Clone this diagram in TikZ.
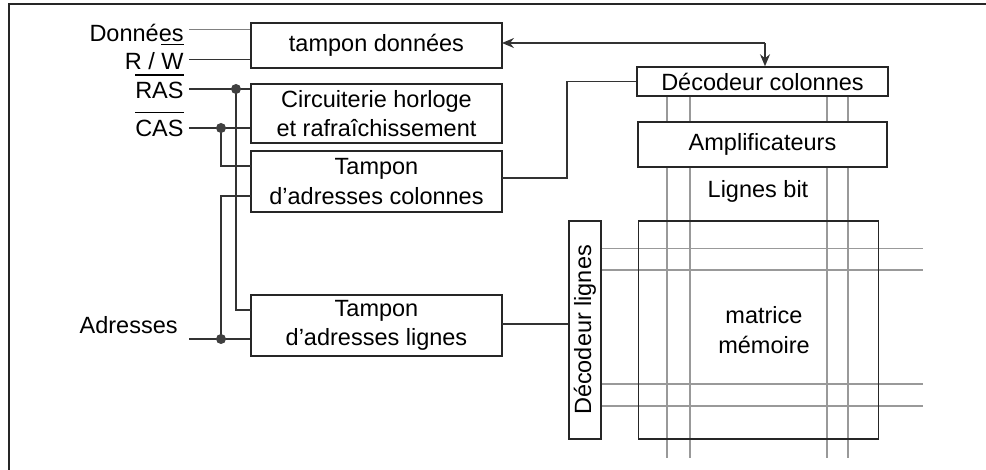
\documentclass[tikz,border=0pt]{standalone}
\usepackage{fontspec}
\setmainfont{Liberation Sans}
\usetikzlibrary{arrows.meta}
\newcommand\myovl[2][3.5pt]{\setbox0\hbox{#2}\rlap{\raisebox{\dimexpr\ht0+#1\relax}{\rule{\wd0}{0.6pt}}}\box0}
\begin{document}
\begin{tikzpicture}[x=0.5pt,y=-0.5pt,
  font=\fontsize{11.75pt}{14.75pt}\selectfont,
  box/.style={draw=black!85, line width=0.75pt, inner sep=0pt, align=center},
  wire/.style={draw=black!80, line width=0.7pt},
  grayw/.style={draw=black!50, line width=0.7pt},
  gridl/.style={draw=black!40, line width=0.8pt},
  lab/.style={inner sep=0pt, anchor=base east},
  dot/.style={circle, fill=black!75, inner sep=0pt, minimum size=5pt},
  tip/.style={-{Stealth[length=6pt,width=5pt,inset=2pt]}}]
\useasboundingbox (0,0) rectangle (986,470);
% frame
\coordinate (fA) at (9,470);
\coordinate (fB) at (9,4);
\coordinate (fC) at (986,4);
\draw[black!85, line width=0.7pt] (fA) -- (fB) -- (fC);

% labels
\node[lab] (lDon) at (184,41.7) {Donn\'ees};
\node[lab] (lRW) at (184,70) {R / \myovl[4.5pt]{W}};
\node[lab] (lRAS) at (184,99) {\myovl{RAS}};
\node[lab] (lCAS) at (184,136.7) {\myovl{CAS}};
\node[lab] (lAdr) at (178,334) {Adresses};

% boxes
\node[box, minimum width=125.5pt, minimum height=22.5pt] (td) at (376.5,45.5) {tampon donn\'ees};
\node[box, minimum width=125.5pt, minimum height=29.5pt] (circ) at (376.5,113.5) {Circuiterie horloge\\et rafra\^ichissement};
\node[box, minimum width=125.5pt, minimum height=30.5pt] (tcol) at (376.5,181.5) {Tampon\\d'adresses colonnes};
\node[box, minimum width=125.5pt, minimum height=30.5pt] (tlig) at (376.5,325.5) {Tampon\\d'adresses lignes};
\node[box, minimum width=125.5pt, minimum height=14.5pt] (dcol) at (762.5,81.5) {D\'ecodeur colonnes};
\node[box, minimum width=124.5pt, minimum height=22.5pt] (amp) at (762.5,144.5) {Amplificateurs};
\node[inner sep=0pt, anchor=base] (lbit) at (758,198) {Lignes bit};
\node[box, minimum width=16pt, minimum height=109pt] (dlig) at (585,330) {\rotatebox{90}{D\'ecodeur lignes}};

% grid lines
\foreach \gx [count=\i] in {666.7,690,826.7,848} {
  \coordinate (bEnd\i) at (\gx,458);
  \draw[gridl] (dcol.south -| bEnd\i) -- (amp.north -| bEnd\i);
  \draw[gridl] (amp.south -| bEnd\i) -- (bEnd\i);
}
\foreach \gy [count=\i] in {248.7,270,384.3,406} {
  \coordinate (wEnd\i) at (922.7,\gy);
  \draw[gridl] (dlig.east |- wEnd\i) -- (wEnd\i);
}
\node[box, minimum width=120pt, minimum height=109pt] (mat) at (758.5,330) {};
\node[inner sep=0pt, align=center] (mtxt) at (764,330) {matrice\\m\'emoire};

% input wires
\coordinate (sDon) at (189,29.3);
\coordinate (sRW) at (189,59.3);
\coordinate (sRAS) at (189,89);
\coordinate (sCAS) at (189,128);
\coordinate (sAdr) at (189,339);
\draw[grayw] (sDon) -- (td.west |- sDon);
\draw[wire] (sRW) -- (td.west |- sRW);
\draw[wire] (sRAS) -- (circ.west |- sRAS);
\draw[wire] (sCAS) -- (circ.west |- sCAS);
\draw[wire] (sAdr) -- (tlig.west |- sAdr);

\coordinate (eL1) at (251,310);
\coordinate (eC1) at (251,166);
\coordinate (eC2) at (251,196);
\coordinate (pRAS) at (236,89);
\coordinate (pCAS) at (221,128);
\coordinate (pAdr) at (221,339);
\draw[wire] (pRAS) |- (eL1);
\draw[wire] (pCAS) |- (eC1);
\draw[wire] (pAdr) |- (eC2);
\node[dot] (dRAS) at (pRAS) {};
\node[dot] (dCAS) at (pCAS) {};
\node[dot] (dAdr) at (pAdr) {};

% column address to decoder
\coordinate (oC) at (502,178);
\coordinate (kC) at (567,178);
\draw[wire] (oC) -- (kC) |- (dcol.west);

% row address to decoder
\coordinate (oL) at (502,324);
\draw[wire] (oL) -- (dlig.west |- oL);

% data bus
\coordinate (oD) at (502,43);
\coordinate (kD) at (765,43);
\draw[wire, tip] (kD) -- (oD);
\draw[wire, tip] (kD) -- (dcol.north -| kD);
\end{tikzpicture}
\end{document}
